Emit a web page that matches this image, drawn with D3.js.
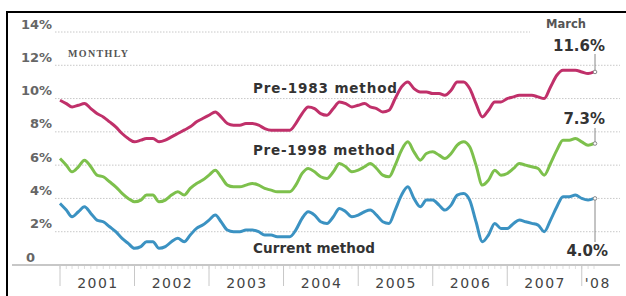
<!DOCTYPE html>
<html>
<head>
<meta charset="utf-8">
<script src="https://cdn.jsdelivr.net/npm/d3@7"></script>
<style>
  body { margin: 0; background: #fff; }
  svg { display: block; }
</style>
</head>
<body>
<div id="chart"></div>
<script>
// monthly unemployment-style rates, Jan 2001 .. Mar 2008
const startMonth = new Date(2001, 0, 1);

const current = [
  3.7, 3.3, 2.9, 3.2, 3.5, 3.1, 2.7, 2.6, 2.3, 2.0, 1.6, 1.3,
  1.0, 1.1, 1.4, 1.4, 1.0, 1.1, 1.4, 1.6, 1.4, 1.8, 2.2, 2.4,
  2.7, 3.0, 2.6, 2.1, 2.0, 2.0, 2.1, 2.1, 2.0, 1.8, 1.8, 1.7,
  1.7, 1.7, 2.1, 2.8, 3.2, 3.0, 2.6, 2.5, 2.9, 3.4, 3.2, 2.9,
  3.0, 3.2, 3.3, 3.0, 2.6, 2.5, 3.3, 4.2, 4.7, 4.0, 3.5, 3.9,
  3.9, 3.6, 3.3, 3.6, 4.2, 4.3, 3.9, 2.6, 1.4, 1.8, 2.5, 2.2,
  2.2, 2.5, 2.7, 2.6, 2.5, 2.4, 2.0, 2.7, 3.5, 4.1, 4.1, 4.2,
  4.0, 3.9, 4.0
];

const pre1998 = [
  6.4, 6.0, 5.6, 5.9, 6.3, 5.9, 5.4, 5.3, 5.0, 4.7, 4.3, 4.0,
  3.8, 3.9, 4.2, 4.2, 3.8, 3.9, 4.2, 4.4, 4.2, 4.6, 4.9, 5.1,
  5.4, 5.7, 5.3, 4.8, 4.7, 4.7, 4.8, 4.9, 4.8, 4.6, 4.5, 4.4,
  4.4, 4.4, 4.8, 5.5, 5.8, 5.6, 5.3, 5.2, 5.6, 6.1, 5.9, 5.6,
  5.7, 5.9, 6.1, 5.8, 5.4, 5.3, 6.0, 6.9, 7.4, 6.8, 6.3, 6.7,
  6.8, 6.6, 6.4, 6.7, 7.2, 7.4, 7.1, 6.0, 4.8, 5.1, 5.7, 5.4,
  5.5, 5.8, 6.1, 6.0, 5.9, 5.8, 5.4, 6.1, 6.9, 7.5, 7.5, 7.6,
  7.4, 7.2, 7.3
];

const pre1983 = [
  9.9, 9.7, 9.5, 9.6, 9.7, 9.4, 9.1, 8.9, 8.6, 8.3, 7.9, 7.6,
  7.4, 7.5, 7.6, 7.6, 7.4, 7.5, 7.7, 7.9, 8.1, 8.3, 8.6, 8.8,
  9.0, 9.2, 8.9, 8.5, 8.4, 8.4, 8.5, 8.5, 8.4, 8.2, 8.1, 8.1,
  8.1, 8.1, 8.5, 9.1, 9.5, 9.4, 9.1, 9.0, 9.4, 9.8, 9.7, 9.5,
  9.6, 9.7, 9.5, 9.4, 9.2, 9.3, 10.0, 10.7, 11.0, 10.6, 10.4, 10.4,
  10.3, 10.3, 10.2, 10.5, 11.0, 11.0, 10.6, 9.7, 8.9, 9.3, 9.8, 9.8,
  10.0, 10.1, 10.2, 10.2, 10.2, 10.1, 10.0, 10.7, 11.4, 11.7, 11.7, 11.7,
  11.6, 11.5, 11.6
];

const yTicks = [0, 2, 4, 6, 8, 10, 12, 14];
const yearLabels = ["2001", "2002", "2003", "2004", "2005", "2006", "2007", "'08"];
const seriesNames = ["Pre-1983 method", "Pre-1998 method", "Current method"];
const endLabels = ["11.6%", "7.3%", "4.0%"];

const width = 626, height = 296;
const months = current.map((d, i) => d3.timeMonth.offset(startMonth, i));

const x = d3.scaleTime()
  .domain([months[0], months[months.length - 1]])
  .range([60, 594]);
const y = d3.scaleLinear().domain([0, 14]).range([265, 32]);

const svg = d3.select("#chart").append("svg")
  .attr("width", width)
  .attr("height", height);

// frame
svg.append("line").attr("x1", 7).attr("x2", width).attr("y1", 12).attr("y2", 12)
  .attr("stroke", "#000").attr("stroke-width", 2);
svg.append("line").attr("x1", 7).attr("x2", 7).attr("y1", 11).attr("y2", height)
  .attr("stroke", "#000").attr("stroke-width", 2);

// gridlines
svg.append("g").selectAll("line")
  .data(yTicks.filter(d => d > 0))
  .enter().append("line")
  .attr("x1", 55)
  .attr("x2", d => d === 14 ? 530 : 620)
  .attr("y1", d => y(d)).attr("y2", d => y(d))
  .attr("stroke", "#c8c8c8")
  .attr("stroke-dasharray", "1.5,1.5");

// baseline
svg.append("line").attr("x1", 12).attr("x2", 620)
  .attr("y1", y(0)).attr("y2", y(0))
  .attr("stroke", "#b5b5b5").attr("stroke-width", 1.5);

// y labels
svg.append("g").selectAll("text")
  .data(yTicks)
  .enter().append("text")
  .attr("x", d => d === 0 ? 26 : 52)
  .attr("y", d => y(d) - 3.5)
  .attr("text-anchor", d => d === 0 ? "start" : "end")
  .attr("font-family", "DejaVu Sans")
  .attr("font-weight", "bold")
  .attr("font-size", "13px")
  .attr("fill", "#666")
  .text(d => d === 0 ? "0" : d + "%");

// x axis: monthly minor ticks and year ticks
const xAxisG = svg.append("g");
xAxisG.selectAll("line.minor")
  .data(months)
  .enter().append("line")
  .attr("class", "minor")
  .attr("x1", d => x(d)).attr("x2", d => x(d))
  .attr("y1", y(0) + 1).attr("y2", y(0) + 4)
  .attr("stroke", "#d5d5d5").attr("stroke-width", 0.8);

const yearStarts = d3.timeYear.range(new Date(2001, 0, 1), new Date(2008, 1, 1));
xAxisG.selectAll("line.year")
  .data(yearStarts)
  .enter().append("line")
  .attr("class", "year")
  .attr("x1", d => x(d)).attr("x2", d => x(d))
  .attr("y1", y(0) + 1).attr("y2", y(0) + 21)
  .attr("stroke", "#c8c8c8").attr("stroke-width", 1);

xAxisG.selectAll("text")
  .data(yearStarts)
  .enter().append("text")
  .attr("x", (d, i) => i < 7 ? x(d3.timeMonth.offset(d, 6)) + 1 : x(d) + 3)
  .attr("y", 288)
  .attr("text-anchor", (d, i) => i < 7 ? "middle" : "start")
  .attr("font-family", "DejaVu Sans")
  .attr("font-size", "14px")
  .attr("letter-spacing", "1.5px")
  .attr("fill", "#444")
  .text((d, i) => yearLabels[i]);

// MONTHLY label
svg.append("text")
  .attr("x", 68).attr("y", 57)
  .attr("font-family", "Liberation Serif")
  .attr("font-weight", "bold")
  .attr("font-size", "10px")
  .attr("textLength", 60)
  .attr("fill", "#555")
  .text("MONTHLY");

// lines
const series = [pre1983, pre1998, current];
const colors = ["#c0306a", "#7dc04c", "#3b92c2"];
const line = d3.line()
  .x((d, i) => x(months[i]))
  .y(d => y(d))
  .curve(d3.curveMonotoneX);

svg.append("g").selectAll("path")
  .data(series)
  .enter().append("path")
  .attr("d", line)
  .attr("fill", "none")
  .attr("stroke", (d, i) => colors[i])
  .attr("stroke-width", 3)
  .attr("stroke-linejoin", "round");

// series labels
const labelY = [93, 155, 253];
const labelW = [144, 142, 122];
svg.append("g").selectAll("text")
  .data(seriesNames)
  .enter().append("text")
  .attr("x", 253)
  .attr("y", (d, i) => labelY[i])
  .attr("font-family", "DejaVu Sans")
  .attr("font-weight", "bold")
  .attr("font-size", "13.5px")
  .attr("textLength", (d, i) => labelW[i])
  .attr("fill", "#333")
  .text(d => d);

// end leaders and labels
const lastX = x(months[months.length - 1]);
const leaderTo = [54, 128, 242];
series.forEach((s, i) => {
  const last = s[s.length - 1];
  svg.append("line")
    .attr("x1", lastX + 1).attr("x2", lastX + 1)
    .attr("y1", y(last)).attr("y2", leaderTo[i])
    .attr("stroke", "#888").attr("stroke-width", 1);
  svg.append("circle")
    .attr("cx", lastX + 1).attr("cy", y(last)).attr("r", 1.8)
    .attr("fill", "#fff").attr("stroke", "#888").attr("stroke-width", 1);
});

const endY = [51, 124, 256];
svg.append("g").selectAll("text")
  .data(endLabels)
  .enter().append("text")
  .attr("x", (d, i) => i === 2 ? 608 : 605)
  .attr("y", (d, i) => endY[i])
  .attr("text-anchor", "end")
  .attr("font-family", "DejaVu Sans")
  .attr("font-weight", "bold")
  .attr("font-size", "15px")
  .attr("fill", "#333")
  .text(d => d);

svg.append("text")
  .attr("x", 566).attr("y", 28)
  .attr("text-anchor", "middle")
  .attr("font-family", "DejaVu Sans")
  .attr("font-weight", "bold")
  .attr("font-size", "11.5px")
  .attr("fill", "#555")
  .text("March");
</script>
</body>
</html>
